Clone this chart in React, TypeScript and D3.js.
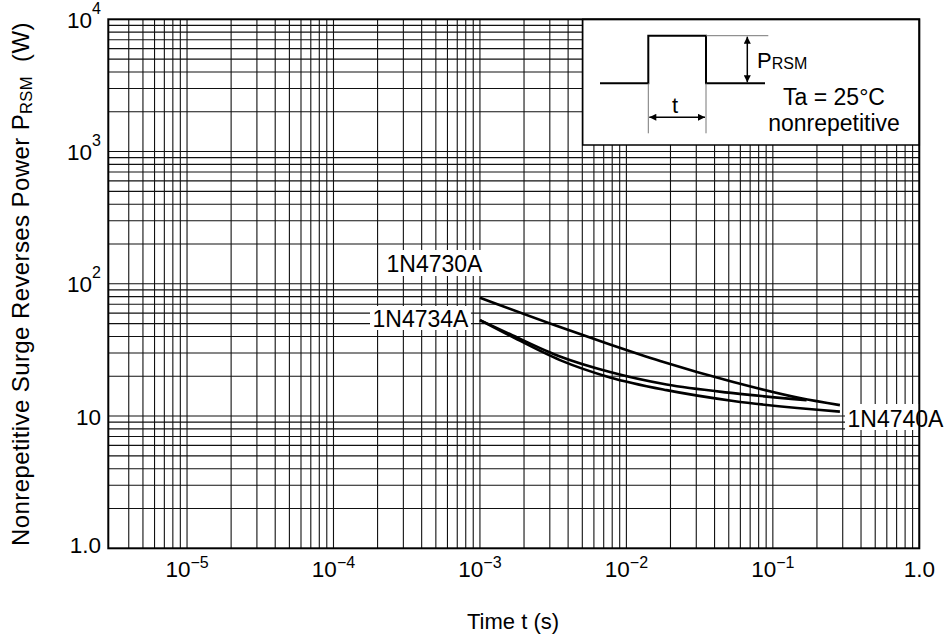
import React from "react";
import * as d3 from "d3";

const W = 949;
const H = 636;

// axis ticks
const xDecades = [1e-5, 1e-4, 1e-3, 1e-2, 1e-1, 1];
const xDecadeExps = [-5, -4, -3, -2, -1, 0];
const yDecades = [1, 10, 100, 1000, 10000];
const yDecadeExps = [0, 1, 2, 3, 4];
const gridMultipliers = [1, 2, 3, 4, 5, 6, 7, 8, 9];

// series (time in s, power in W)
const seriesNames = ["1N4730A", "1N4734A", "1N4740A"];
const t4730 = [1e-3, 3.52e-3, 7.73e-3, 0.017, 0.0537, 0.153, 0.287];
const p4730 = [78.5, 47.1, 34.8, 26.1, 18.1, 13.7, 12.1];
const t4734 = [1e-3, 1.6e-3, 3.52e-3, 7.73e-3, 0.0188, 0.0537, 0.17];
const p4734 = [53.2, 41.7, 28.2, 21.5, 17.3, 14.9, 13.2];
const t4740 = [1e-3, 1.6e-3, 3.52e-3, 7.73e-3, 0.0188, 0.0537, 0.287];
const p4740 = [53.2, 40.6, 26.5, 19.6, 15.7, 13.0, 10.8];

const FONT = "'Liberation Sans', Arial, Helvetica, sans-serif";

const L = 108.3, R = 919.3, T = 19.3, B = 548.3;

export default function App() {
  const x = d3.scaleLog().domain([2.9e-6, 1]).range([L, R]);
  const y = d3.scaleLog().domain([1, 1e4]).range([B, T]);

  const xGrid: number[] = [];
  for (let e = -6; e <= 0; e++) {
    gridMultipliers.forEach((m) => {
      const v = m * Math.pow(10, e);
      if (v <= 1 && x(v) > L + 4) xGrid.push(v);
    });
  }
  const yGrid: number[] = [];
  for (let e = 0; e < 4; e++) {
    gridMultipliers.forEach((m) => {
      const v = m * Math.pow(10, e);
      if (v > 1) yGrid.push(v);
    });
  }

  const line = d3
    .line<[number, number]>()
    .x((d) => x(d[0]))
    .y((d) => y(d[1]))
    .curve(d3.curveMonotoneX);

  const series = [
    d3.zip(t4730, p4730) as [number, number][],
    d3.zip(t4734, p4734) as [number, number][],
    d3.zip(t4740, p4740) as [number, number][],
  ];

  const labelFs = 23;
  const labelW = 4.17 * labelFs;

  // inset geometry
  const bx0 = 582.7, bx1 = R, by0 = T, by1 = 145;
  const pHigh = 35.7, pLow = 83.3, pL = 648.3, pRt = 706;

  const expLabel = (e: number, shift: number) => {
    if (e === 0) return "1.0";
    if (e === 1) return "10";
    return [
      <tspan key="b">10</tspan>,
      <tspan key="s" fontSize={16} dy={shift}>
        {e < 0 ? "\u2212" + -e : String(e)}
      </tspan>,
    ];
  };

  return (
    <svg
      width={W}
      height={H}
      style={{ position: "fixed", left: 0, top: 0, background: "#fff" }}
      fontFamily={FONT}
    >
      <defs>
        <marker id="ah" viewBox="0 0 10 10" refX="10" refY="5" markerWidth="9" markerHeight="7" orient="auto-start-reverse" markerUnits="userSpaceOnUse">
          <path d="M0,0 L10,5 L0,10 z" fill="#000" />
        </marker>
      </defs>
      <rect x={0} y={0} width={W} height={H} fill="#fff" />

      {/* grid */}
      {xGrid.map((v, i) => (
        <line key={"gx" + i} x1={x(v)} x2={x(v)} y1={T} y2={B} stroke="#111" strokeWidth={1.1} />
      ))}
      {yGrid.map((v, i) => (
        <line key={"gy" + i} x1={L} x2={R} y1={y(v)} y2={y(v)} stroke="#111" strokeWidth={1.1} />
      ))}

      {/* inset box */}
      <rect x={bx0} y={by0} width={bx1 - bx0} height={by1 - by0} fill="#fff" stroke="#000" strokeWidth={1.5} />
      <path d={`M600,${pLow} H${pL} V${pHigh} H${pRt} V${pLow} H765`} fill="none" stroke="#000" strokeWidth={2} />
      <line x1={pRt} x2={768.3} y1={pHigh} y2={pHigh} stroke="#777" strokeWidth={1} />
      <line x1={pL} x2={pL} y1={pLow} y2={133.3} stroke="#777" strokeWidth={1} />
      <line x1={pRt} x2={pRt} y1={pLow} y2={133.3} stroke="#777" strokeWidth={1} />
      <line x1={747.3} x2={747.3} y1={pHigh + 1} y2={pLow - 1} stroke="#000" strokeWidth={1.5} markerStart="url(#ah)" markerEnd="url(#ah)" />
      <line x1={pL + 1} x2={pRt - 1} y1={117.3} y2={117.3} stroke="#000" strokeWidth={1.5} markerStart="url(#ah)" markerEnd="url(#ah)" />
      <text x={675} y={113.3} fontSize={22} textAnchor="middle">t</text>
      <text x={757} y={68.3} fontSize={22}>
        P<tspan fontSize={16} dy={1}>RSM</tspan>
      </text>
      <text x={834} y={105} fontSize={23} textAnchor="middle">Ta = 25°C</text>
      <text x={834} y={130.7} fontSize={23} textAnchor="middle">nonrepetitive</text>

      {/* curves */}
      {series.map((s, i) => (
        <path key={"s" + i} d={line(s) || ""} fill="none" stroke="#000" strokeWidth={2.6} />
      ))}

      {/* curve labels */}
      <rect x={384} y={250} width={labelW + 5} height={26} fill="#fff" />
      <text x={386.5} y={271.7} fontSize={labelFs}>{seriesNames[0]}</text>
      <rect x={370} y={306} width={labelW + 5} height={24} fill="#fff" />
      <text x={372.5} y={327.3} fontSize={labelFs}>{seriesNames[1]}</text>
      <rect x={845} y={404} width={labelW + 6} height={26} fill="#fff" />
      <text x={847.5} y={426.5} fontSize={labelFs}>{seriesNames[2]}</text>

      {/* frame */}
      <rect x={L} y={T} width={R - L} height={B - T} fill="none" stroke="#000" strokeWidth={2} />

      {/* x tick labels */}
      {xDecades.map((v, i) => (
        <text key={"xt" + i} x={x(v)} y={576.7} fontSize={22.5} textAnchor="middle">
          {expLabel(xDecadeExps[i], -9)}
        </text>
      ))}
      {/* y tick labels */}
      {yDecades.map((v, i) => (
        <text key={"yt" + i} x={101} y={y(v) + (v === 1 ? 4.5 : 8.5)} fontSize={22.5} textAnchor="end">
          {expLabel(yDecadeExps[i], -14)}
        </text>
      ))}

      {/* axis titles */}
      <text x={513} y={629} fontSize={22} textAnchor="middle" style={{ whiteSpace: "pre" }}>
        Time t (s)
      </text>
      <text transform="translate(29,284) rotate(-90)" fontSize={24} letterSpacing={0.4} textAnchor="middle" style={{ whiteSpace: "pre" }}>
        Nonrepetitive Surge Reverses Power P<tspan fontSize={16.5} dy={3}>RSM</tspan>
        <tspan dy={-3}>  (W)</tspan>
      </text>
    </svg>
  );
}
